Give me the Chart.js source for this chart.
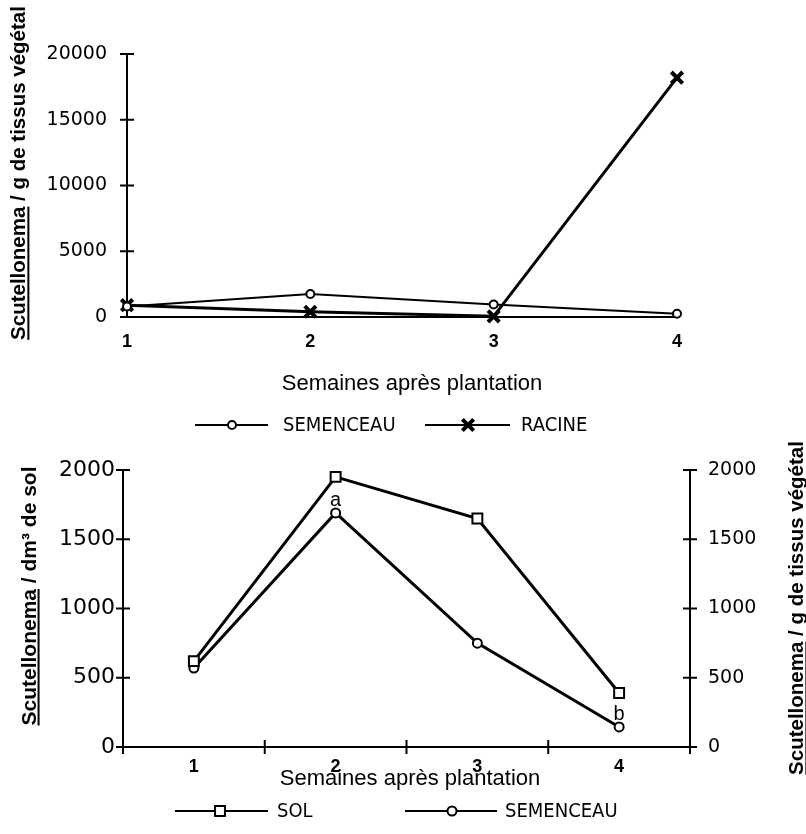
<!DOCTYPE html>
<html><head><meta charset="utf-8">
<script src="https://cdn.jsdelivr.net/npm/chart.js@4.4.1/dist/chart.umd.min.js"></script>
<style>
html,body{margin:0;padding:0;background:#fff;}
#wrap{position:relative;width:806px;height:834px;overflow:hidden;background:#fff;}
#c1{position:absolute;left:0;top:0;}
#c2{position:absolute;left:0;top:440px;}
</style></head><body>
<div id="wrap"><canvas id="c1" width="806" height="440"></canvas><canvas id="c2" width="806" height="394"></canvas></div>
<script>
// ---- data ----
const weeks = ['1', '2', '3', '4'];
const topSemenceau = [800, 1750, 950, 250];
const topRacine = [900, 400, 50, 18200];
const topYTicks = [0, 5000, 10000, 15000, 20000];
const botSol = [620, 1950, 1650, 390];
const botSemenceau = [570, 1690, 750, 145];
const botYTicks = [0, 500, 1000, 1500, 2000];
const botLetters = ['', 'a', '', 'b'];
const xTitle = 'Semaines après plantation';
const yTitleTissue = ['Scutellonema', ' / g de tissus végétal'];
const yTitleSoil = ['Scutellonema', ' / dm³ de sol'];

// ---- helpers ----
function drawMarker(ctx, style, x, y, r, bw) {
  ctx.save();
  ctx.lineWidth = bw; ctx.strokeStyle = '#000'; ctx.fillStyle = '#fff';
  ctx.beginPath();
  if (style === 'circle') { ctx.arc(x, y, r, 0, Math.PI * 2); ctx.fill(); ctx.stroke(); }
  else if (style === 'rect') { const s = r * Math.SQRT1_2; ctx.rect(x - s, y - s, 2 * s, 2 * s); ctx.fill(); ctx.stroke(); }
  else if (style === 'crossRot') { const s = r * Math.SQRT1_2; ctx.moveTo(x - s, y - s); ctx.lineTo(x + s, y + s); ctx.moveTo(x + s, y - s); ctx.lineTo(x - s, y + s); ctx.stroke(); }
  ctx.restore();
}
function drawVTitle(ctx, t) {
  ctx.save();
  ctx.translate(t.x, t.y);
  ctx.rotate(-Math.PI / 2);
  ctx.font = t.font; ctx.fillStyle = '#000'; ctx.textBaseline = 'alphabetic'; ctx.textAlign = 'left';
  const full = t.parts.join('');
  const w = ctx.measureText(full).width;
  const w0 = ctx.measureText(t.parts[0]).width;
  const by = t.size * 0.36;
  ctx.fillText(full, -w / 2, by);
  ctx.fillRect(-w / 2, by + 2, w0, 2);
  ctx.restore();
}

const crossTicks = {
  id: 'crossTicks',
  afterDatasetsDraw(chart, args, o) {
    const ctx = chart.ctx;
    ctx.save(); ctx.strokeStyle = '#000'; ctx.lineWidth = 2;
    (o.yScales || []).forEach(id => {
      const s = chart.scales[id];
      const x = s.position === 'left' ? s.right : s.left;
      s.ticks.forEach(t => {
        const y = s.getPixelForValue(t.value);
        ctx.beginPath(); ctx.moveTo(x - o.len, y); ctx.lineTo(x + o.len, y); ctx.stroke();
      });
    });
    if (o.xBands) {
      const s = chart.scales.x; const y = s.top;
      const n = chart.data.labels.length;
      const half = (s.getPixelForValue(1) - s.getPixelForValue(0)) / 2;
      for (let i = 0; i <= n; i++) {
        const x = s.getPixelForValue(0) - half + 2 * half * i;
        ctx.beginPath(); ctx.moveTo(x, y - o.len); ctx.lineTo(x, y + o.len); ctx.stroke();
      }
    }
    ctx.restore();
  }
};

const decor = {
  id: 'decor',
  afterDraw(chart, args, o) {
    const ctx = chart.ctx;
    ctx.save(); ctx.fillStyle = '#000';
    (o.vTitles || []).forEach(t => drawVTitle(ctx, t));
    (o.hTitles || []).forEach(t => {
      ctx.font = t.font; ctx.textAlign = 'center'; ctx.textBaseline = 'middle';
      ctx.fillText(t.text, t.x, t.y);
    });
    (o.legend || []).forEach(it => {
      const ds = chart.data.datasets[it.ds];
      ctx.save();
      ctx.strokeStyle = '#000'; ctx.lineWidth = it.lw;
      ctx.beginPath(); ctx.moveTo(it.x1, it.y); ctx.lineTo(it.x2, it.y); ctx.stroke();
      ctx.restore();
      drawMarker(ctx, ds.pointStyle, it.mx, it.y, ds.pointRadius, ds.pointBorderWidth);
      ctx.font = it.font; ctx.textAlign = 'left'; ctx.textBaseline = 'middle'; ctx.fillStyle = '#000';
      ctx.fillText(ds.label, it.tx, it.y + 1);
    });
    if (o.letters) {
      const L = o.letters;
      const xs = chart.scales.x, ys = chart.scales[L.scale];
      ctx.font = L.font; ctx.textAlign = 'center'; ctx.textBaseline = 'middle';
      L.text.forEach((txt, i) => {
        if (!txt) return;
        ctx.fillText(txt, xs.getPixelForValue(i), ys.getPixelForValue(L.values[i]) - L.dy);
      });
    }
    ctx.restore();
  }
};

Chart.defaults.color = '#000';
Chart.defaults.animation = false;

const legendFont = '20px "DejaVu Sans Condensed", "Liberation Sans Narrow", sans-serif';
const tickFamily = '"DejaVu Sans", sans-serif';

// ---- top chart ----
new Chart(document.getElementById('c1'), {
  type: 'line',
  data: {
    labels: weeks,
    datasets: [
      { label: 'SEMENCEAU', data: topSemenceau, borderColor: '#000', borderWidth: 2,
        pointStyle: 'circle', pointRadius: 4, pointBorderWidth: 2, pointBackgroundColor: '#fff',
        pointBorderColor: '#000', tension: 0, clip: false },
      { label: 'RACINE', data: topRacine, borderColor: '#000', borderWidth: 3,
        pointStyle: 'crossRot', pointRadius: 8, pointBorderWidth: 4, pointBackgroundColor: '#000',
        pointBorderColor: '#000', tension: 0, clip: false }
    ]
  },
  options: {
    responsive: false, animation: false,
    layout: { padding: { left: 0, right: 129, top: 54, bottom: 0 } },
    plugins: {
      legend: { display: false }, tooltip: { enabled: false },
      crossTicks: { yScales: ['y'], len: 7 },
      decor: {
        vTitles: [{ parts: yTitleTissue, x: 18, y: 173, font: 'bold 20.5px "Liberation Sans", Arial, sans-serif', size: 20.5 }],
        hTitles: [{ text: xTitle, x: 412, y: 384, font: '22px "Liberation Sans", Arial, sans-serif' }],
        legend: [
          { ds: 0, x1: 195, x2: 268, mx: 232, y: 425, lw: 2, tx: 283, font: legendFont },
          { ds: 1, x1: 425, x2: 510, mx: 468, y: 425, lw: 2, tx: 521, font: legendFont }
        ]
      }
    },
    scales: {
      x: {
        type: 'category', offset: false,
        grid: { drawOnChartArea: false, drawTicks: false },
        border: { display: true, color: '#000', width: 2 },
        ticks: { padding: 14, font: { family: '"Liberation Sans", Arial, sans-serif', size: 18, weight: 'bold' }, color: '#000' },
        afterFit: s => { s.height = 123; }
      },
      y: {
        min: 0, max: 20000,
        grid: { drawOnChartArea: false, drawTicks: false },
        border: { display: true, color: '#000', width: 2 },
        afterBuildTicks: s => { s.ticks = topYTicks.map(v => ({ value: v })); },
        ticks: { padding: 20, font: { family: tickFamily, size: 19 }, color: '#000', callback: v => String(v) },
        afterFit: s => { s.width = 127; }
      }
    }
  },
  plugins: [crossTicks, decor]
});

// ---- bottom chart ----
new Chart(document.getElementById('c2'), {
  type: 'line',
  data: {
    labels: weeks,
    datasets: [
      { label: 'SOL', data: botSol, yAxisID: 'y', borderColor: '#000', borderWidth: 3,
        pointStyle: 'rect', pointRadius: 7, pointBorderWidth: 2, pointBackgroundColor: '#fff',
        pointBorderColor: '#000', tension: 0, clip: false },
      { label: 'SEMENCEAU', data: botSemenceau, yAxisID: 'y2', borderColor: '#000', borderWidth: 3,
        pointStyle: 'circle', pointRadius: 4.5, pointBorderWidth: 2, pointBackgroundColor: '#fff',
        pointBorderColor: '#000', tension: 0, clip: false }
    ]
  },
  options: {
    responsive: false, animation: false,
    layout: { padding: { left: 0, right: 0, top: 30, bottom: 0 } },
    plugins: {
      legend: { display: false }, tooltip: { enabled: false },
      crossTicks: { yScales: ['y', 'y2'], len: 7, xBands: true },
      decor: {
        vTitles: [
          { parts: yTitleSoil, x: 28, y: 156, font: 'bold 21px "Liberation Sans", Arial, sans-serif', size: 21 },
          { parts: yTitleTissue, x: 796, y: 168, font: 'bold 20.5px "Liberation Sans", Arial, sans-serif', size: 20.5 }
        ],
        hTitles: [{ text: xTitle, x: 410, y: 339, font: '22px "Liberation Sans", Arial, sans-serif' }],
        legend: [
          { ds: 0, x1: 175, x2: 268, mx: 220, y: 371, lw: 2, tx: 277, font: legendFont },
          { ds: 1, x1: 405, x2: 497, mx: 452, y: 371, lw: 2, tx: 505, font: legendFont }
        ],
        letters: { text: botLetters, values: botSemenceau, scale: 'y2', dy: 12, font: '20px "Liberation Sans", Arial, sans-serif' }
      }
    },
    scales: {
      x: {
        type: 'category', offset: true,
        grid: { drawOnChartArea: false, drawTicks: false, offset: true },
        border: { display: true, color: '#000', width: 2 },
        ticks: { padding: 9, font: { family: '"Liberation Sans", Arial, sans-serif', size: 18, weight: 'bold' }, color: '#000' },
        afterFit: s => { s.height = 87; }
      },
      y: {
        position: 'left', min: 0, max: 2000,
        grid: { drawOnChartArea: false, drawTicks: false },
        border: { display: true, color: '#000', width: 2 },
        afterBuildTicks: s => { s.ticks = botYTicks.map(v => ({ value: v })); },
        ticks: { padding: 8, font: { family: tickFamily, size: 22 }, color: '#000', callback: v => String(v) },
        afterFit: s => { s.width = 123; }
      },
      y2: {
        position: 'right', min: 0, max: 2000,
        grid: { drawOnChartArea: false, drawTicks: false },
        border: { display: true, color: '#000', width: 2 },
        afterBuildTicks: s => { s.ticks = botYTicks.map(v => ({ value: v })); },
        ticks: { padding: 18, font: { family: tickFamily, size: 19 }, color: '#000', callback: v => String(v) },
        afterFit: s => { s.width = 116; }
      }
    }
  },
  plugins: [crossTicks, decor]
});
</script>
</body></html>
